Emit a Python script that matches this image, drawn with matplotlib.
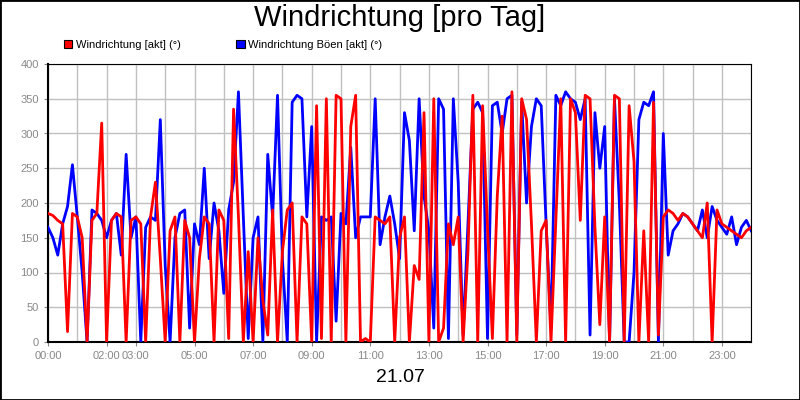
import numpy as np
import matplotlib.pyplot as plt
from matplotlib.patches import Patch

plt.rcParams["font.family"] = "Liberation Sans"

# 10-minute samples, 00:00 .. 24:00
red = [185, 182, 175, 170, 15, 185,
       180, 150, 0, 175, 185, 315,
       0, 175, 185, 180, 0, 175,
       180, 170, 0, 180, 230, 120,
       0, 160, 180, 0, 175, 150,
       0, 120, 180, 170, 0, 190,
       175, 5, 335, 180, 0, 130,
       0, 150, 60, 10, 190, 0,
       130, 190, 200, 0, 180, 170,
       0, 340, 5, 350, 0, 355,
       350, 0, 310, 355, 0, 5,
       0, 180, 175, 170, 180, 0,
       150, 180, 0, 110, 90, 330,
       0, 350, 0, 20, 170, 140,
       180, 0, 130, 355, 0, 340,
       165, 5, 210, 325, 0, 360,
       0, 350, 320, 170, 0, 160,
       175, 0, 175, 350, 0, 350,
       330, 175, 355, 350, 165, 25,
       180, 0, 355, 350, 0, 340,
       260, 0, 160, 0, 345, 10,
       180, 190, 185, 175, 185, 180,
       170, 160, 150, 200, 0, 190,
       170, 165, 160, 155, 150, 160, 165]
blue = [165, 150, 125, 170, 195, 255,
        180, 100, 0, 190, 185, 175,
        150, 175, 185, 125, 270, 150,
        180, 0, 165, 180, 175, 320,
        110, 0, 150, 185, 190, 20,
        170, 140, 250, 120, 200, 160,
        70, 190, 230, 360, 180, 5,
        150, 180, 0, 270, 180, 355,
        120, 0, 345, 355, 350, 180,
        310, 0, 180, 175, 180, 30,
        185, 170, 280, 150, 180, 180,
        180, 350, 140, 180, 210, 170,
        120, 330, 290, 160, 350, 210,
        160, 20, 350, 335, 5, 350,
        230, 10, 170, 335, 345, 330,
        5, 340, 345, 300, 350, 355,
        10, 345, 200, 310, 350, 340,
        170, 20, 355, 340, 360, 350,
        345, 320, 350, 10, 330, 250,
        310, 0, 350, 200, 0, 0,
        100, 320, 345, 340, 360, 0,
        300, 125, 160, 170, 185, 180,
        170, 160, 190, 150, 195, 175,
        165, 155, 180, 140, 165, 175, 160]
tick_hours = [0, 2, 3, 5, 7, 9, 11, 13, 15, 17, 19, 21, 23]
tick_labels = [f"{h:02d}:00" for h in tick_hours]

hours = np.arange(len(red)) / 6.0

fig = plt.figure(figsize=(8, 4), dpi=100)
fig.patches.append(plt.Rectangle((0, 0), 1, 1, transform=fig.transFigure,
                                 fill=False, edgecolor="black", lw=2))
ax = fig.add_axes([0.06, 0.145, 0.879, 0.695])

ax.plot(hours, blue, color="#0000ff", lw=2, zorder=3)
ax.plot(hours, red, color="#ff0000", lw=2, zorder=4)

ax.set_xlim(0, 24)
ax.set_ylim(0, 400)
ax.set_yticks(range(0, 401, 50))
ax.set_xticks(range(0, 25), minor=True)
ax.set_xticks(tick_hours)
ax.set_xticklabels(tick_labels)
ax.grid(True, which="both", color="#c0c0c0", lw=1)
ax.set_axisbelow(True)
ax.tick_params(labelsize=8, labelcolor="#888888", length=3, color="#888888")
ax.tick_params(which="minor", length=0)
for sp in ["left", "bottom"]:
    ax.spines[sp].set_linewidth(1.5)

fig.text(0.5, 0.955, "Windrichtung [pro Tag]", ha="center", va="center", fontsize=21)
fig.text(0.5, 0.055, "21.07", ha="center", va="center", fontsize=14)

handles = [Patch(facecolor="#ff0000", edgecolor="black", lw=0.8),
           Patch(facecolor="#0000ff", edgecolor="black", lw=0.8)]
labels = ["Windrichtung [akt] (°)", "Windrichtung Böen [akt] (°)"]
fig.legend(handles, labels, loc="center left", bbox_to_anchor=(0.067, 0.888),
           ncol=2, frameon=False, fontsize=8, handlelength=0.8, handleheight=0.8,
           columnspacing=5, handletextpad=0.3)

fig.savefig("out.png", dpi=100)
